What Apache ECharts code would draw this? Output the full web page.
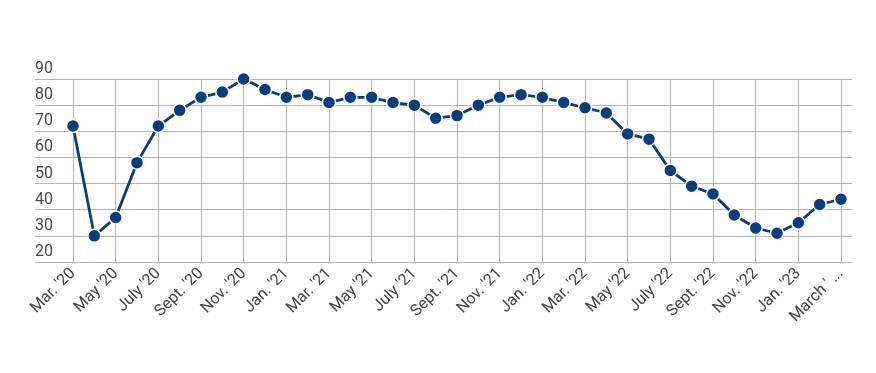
<!DOCTYPE html>
<html><head><meta charset="utf-8">
<script src="https://cdn.jsdelivr.net/npm/echarts@6/dist/echarts.min.js"></script>
<style>html,body{margin:0;padding:0;background:#fff}#c{width:876px;height:373px}</style>
</head><body><div id="c"></div>
<script>
const months = ["Mar. '20","Apr. '20","May '20","June '20","July '20","Aug. '20","Sept. '20","Oct. '20","Nov. '20","Dec. '20",
"Jan. '21","Feb. '21","Mar. '21","Apr. '21","May '21","June '21","July '21","Aug. '21","Sept. '21","Oct. '21","Nov. '21","Dec. '21",
"Jan. '22","Feb. '22","Mar. '22","Apr. '22","May '22","June '22","July '22","Aug. '22","Sept. '22","Oct. '22","Nov. '22","Dec. '22",
"Jan. '23","Feb. '23","March ' ..."];
const values = [72,30,37,58,72,78,83,85,90,86,
83,84,81,83,83,81,80,75,76,80,83,84,
83,81,79,77,69,67,55,49,46,38,33,31,
35,42,44];
const yMin = 20, yMax = 90, yStep = 10;

const chart = echarts.init(document.getElementById('c'), null, {renderer:'canvas'});
const font = 'Roboto, "Noto Sans", sans-serif';
chart.setOption({
  animation:false,
  grid:[
    {left:35,right:24,top:79,bottom:111},
    {left:73,right:35,top:79,bottom:111}
  ],
  xAxis:[
    {gridIndex:0,type:'value',show:false,min:0,max:1},
    {gridIndex:1,type:'category',data:months,boundaryGap:false,
     axisLine:{show:false},axisTick:{show:false},
     splitLine:{show:true,interval:1,lineStyle:{color:'#b3b3b3',width:1}},
     axisLabel:{interval:1,rotate:45,margin:9,color:'#444444',fontSize:16,fontFamily:font}}
  ],
  yAxis:[
    {gridIndex:0,type:'value',min:yMin,max:yMax,interval:yStep,
     axisLine:{show:false},axisTick:{show:false},
     splitLine:{show:true,lineStyle:{color:'#b3b3b3',width:1}},
     axisLabel:{inside:true,margin:0,align:'left',verticalAlign:'bottom',padding:[0,0,2,0],
       color:'#4a4a4a',fontSize:16,fontFamily:font}},
    {gridIndex:1,type:'value',min:yMin,max:yMax,interval:yStep,show:false,splitLine:{show:false}}
  ],
  series:[{
    type:'line',xAxisIndex:1,yAxisIndex:1,data:values,
    symbol:'circle',symbolSize:13,
    lineStyle:{color:'#073f7e',width:2.8},
    itemStyle:{color:'#073f7e',borderColor:'#ffffff',borderWidth:1.5}
  }]
});
</script></body></html>
